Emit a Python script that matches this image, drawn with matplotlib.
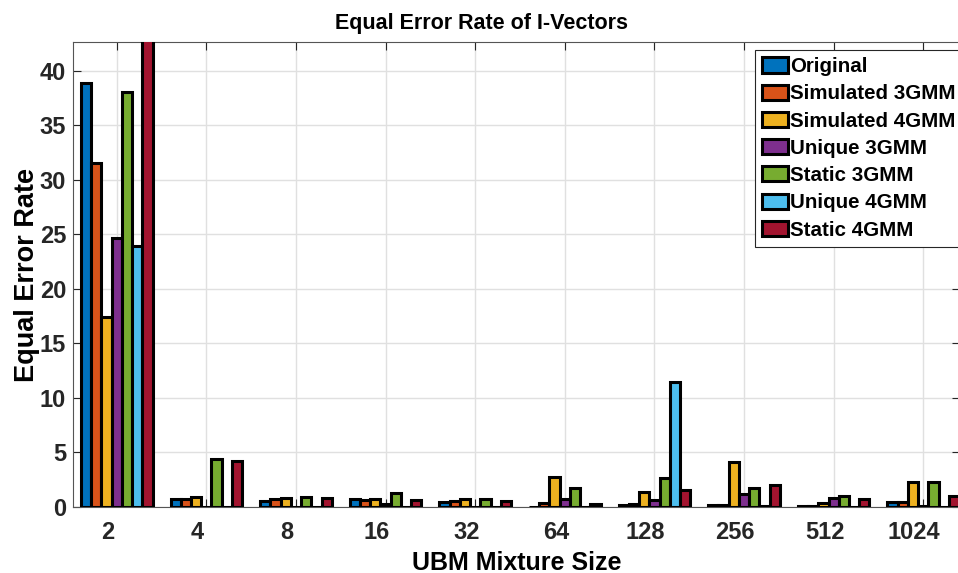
import numpy as np
import matplotlib.pyplot as plt
import matplotlib.transforms as mtransforms

plt.rcParams['font.family'] = ['Liberation Sans', 'DejaVu Sans']
plt.rcParams['font.weight'] = 'bold'

# data
mixtures = ['2', '4', '8', '16', '32', '64', '128', '256', '512', '1024']
original = [38.9, 0.75, 0.52, 0.7, 0.48, 0.0, 0.2, 0.15, 0.05, 0.45]
simulated_3gmm = [31.6, 0.75, 0.7, 0.6, 0.55, 0.4, 0.3, 0.2, 0.1, 0.45]
simulated_4gmm = [17.4, 0.92, 0.87, 0.7, 0.7, 2.72, 1.4, 4.1, 0.4, 2.3]
unique_3gmm = [24.7, 0.0, 0.0, 0.3, 0.0, 0.75, 0.6, 1.2, 0.8, 0.1]
static_3gmm = [38.05, 4.37, 0.95, 1.25, 0.7, 1.7, 2.62, 1.7, 1.0, 2.3]
unique_4gmm = [23.95, 0.0, 0.0, 0.0, 0.0, 0.0, 11.5, 0.05, 0.0, 0.0]
static_4gmm = [43.5, 4.25, 0.87, 0.65, 0.57, 0.25, 1.55, 2.0, 0.7, 1.0]

series = [original, simulated_3gmm, simulated_4gmm, unique_3gmm,
          static_3gmm, unique_4gmm, static_4gmm]
names = ['Original', 'Simulated 3GMM', 'Simulated 4GMM', 'Unique 3GMM',
         'Static 3GMM', 'Unique 4GMM', 'Static 4GMM']
# matlab default colour order
colors = ['#0072BD', '#D95319', '#EDB120', '#7E2F8E',
          '#77AC30', '#4DBEEE', '#A2142F']

fig = plt.figure(figsize=(9.58, 5.73), dpi=100)
ax = fig.add_axes([73/958, 66/573, 887/958, 465/573])

x = np.arange(1, len(mixtures) + 1)
n = len(series)
w = 0.8 / n
for i, (vals, nm, c) in enumerate(zip(series, names, colors)):
    ax.bar(x + (i - (n - 1) / 2) * w, vals, w, color=c, edgecolor='black',
           linewidth=2.2, label=nm, zorder=3)

ax.set_xlim(0.512, 10.41)
ax.set_ylim(0, 42.66)
ax.set_yticks(np.arange(0, 45, 5))
ax.set_xticks(x)
ax.set_xticklabels([])
# tick labels sit a bit left of the ticks in the original, so draw them by hand
off = mtransforms.ScaledTranslation(-0.09, -0.14, fig.dpi_scale_trans)
tr = ax.get_xaxis_transform() + off
for xi, lab in zip(x, mixtures):
    ax.text(xi, 0, lab, transform=tr, ha='center', va='top', fontsize=17,
            fontweight='bold', color='#262626')

ax.grid(True, color='#e0e0e0', linewidth=1, zorder=0)
ax.set_axisbelow(True)
ax.tick_params(direction='in', length=6, width=0.8, top=True, right=True,
               labelsize=17, colors='#262626')
ax.tick_params(axis='y', pad=5)
for s in ax.spines.values():
    s.set_color('#555555')
    s.set_linewidth(0.8)
ax.spines['right'].set_visible(False)

ax.set_title('Equal Error Rate of I-Vectors', fontsize=15.5, fontweight='bold',
             x=0.461, pad=9)
ax.set_xlabel('UBM Mixture Size', fontsize=18, fontweight='bold', labelpad=28)
ax.set_ylabel('Equal Error Rate', fontsize=19.5, fontweight='bold', labelpad=0)

leg = ax.legend(loc='upper left', bbox_to_anchor=(755/958, 1 - 50/573),
                bbox_transform=fig.transFigure, fontsize=14.8, frameon=True,
                fancybox=False, edgecolor='#262626', framealpha=1,
                handlelength=1.25, handleheight=0.75, handletextpad=0.1,
                labelspacing=0.4, borderpad=0.35, borderaxespad=0)
leg.get_frame().set_linewidth(0.8)

fig.savefig('out.png', dpi=100)
